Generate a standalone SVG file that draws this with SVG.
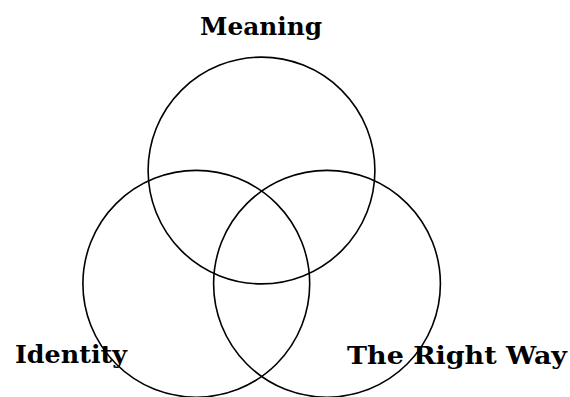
<svg xmlns="http://www.w3.org/2000/svg" width="570" height="397" viewBox="0 0 570 397">
<style>
.c{fill:none;stroke:#000;stroke-width:1.6}
.t{font-family:"DejaVu Serif","Liberation Serif",serif;font-weight:bold;font-size:24px;fill:#000}
</style>
<rect width="570" height="397" fill="#fff"/>
<g id="connectors"></g>
<g id="meaning"><circle class="c" cx="261.5" cy="170.5" r="113.4"/><text class="t" x="200" y="35" textLength="122" lengthAdjust="spacingAndGlyphs">Meaning</text></g>
<g id="identity"><circle class="c" cx="196.3" cy="283.8" r="113.4"/><text class="t" x="15" y="363" textLength="112" lengthAdjust="spacingAndGlyphs">Identity</text></g>
<g id="rightway"><circle class="c" cx="327" cy="283.8" r="113.4"/><text class="t" x="347" y="364" textLength="220" lengthAdjust="spacingAndGlyphs">The Right Way</text></g>
</svg>
